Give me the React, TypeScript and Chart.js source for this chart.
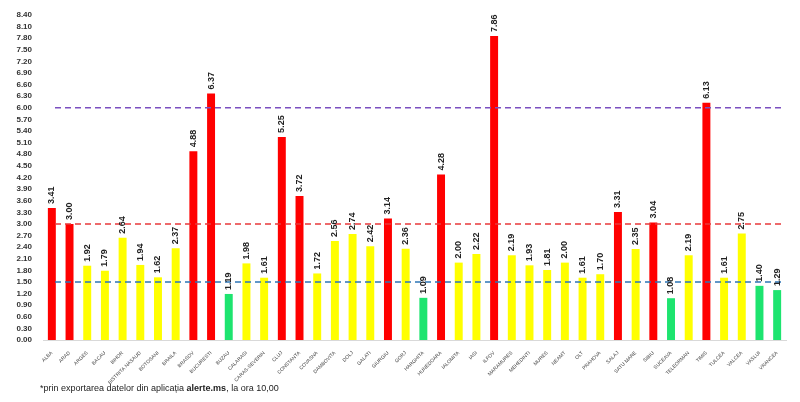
import { useEffect, useRef } from "react";
import { Chart, registerables } from "chart.js";

Chart.register(...registerables);

// judete si rata de incidenta
const judete = [
  "ALBA", "ARAD", "ARGES", "BACAU", "BIHOR", "BISTRITA NASAUD", "BOTOSANI",
  "BRAILA", "BRASOV", "BUCURESTI", "BUZAU", "CALARASI", "CARAS-SEVERIN", "CLUJ",
  "CONSTANTA", "COVASNA", "DAMBOVITA", "DOLJ", "GALATI", "GIURGIU", "GORJ",
  "HARGHITA", "HUNEDOARA", "IALOMITA", "IASI", "ILFOV", "MARAMURES", "MEHEDINTI",
  "MURES", "NEAMT", "OLT", "PRAHOVA", "SALAJ", "SATU MARE", "SIBIU", "SUCEAVA",
  "TELEORMAN", "TIMIS", "TULCEA", "VALCEA", "VASLUI", "VRANCEA",
];
const rate = [
  3.41, 3.0, 1.92, 1.79, 2.64, 1.94, 1.62,
  2.37, 4.88, 6.37, 1.19, 1.98, 1.61, 5.25,
  3.72, 1.72, 2.56, 2.74, 2.42, 3.14, 2.36,
  1.09, 4.28, 2.0, 2.22, 7.86, 2.19, 1.93,
  1.81, 2.0, 1.61, 1.7, 3.31, 2.35, 3.04, 1.08,
  2.19, 6.13, 1.61, 2.75, 1.4, 1.29,
];
// praguri: verde / galben / rosu
const praguri = [1.5, 3, 6];
const culoriPraguri = ["#2E75B6", "#E8383B", "#7B4FC0"];

const culoare = (v: number) =>
  v < praguri[0] ? "#1DE46F" : v < praguri[1] ? "#FFFF00" : "#FF0000";

const pragPlugin = {
  id: "praguri",
  afterDatasetsDraw(chart: any) {
    const { ctx, chartArea, scales } = chart;
    ctx.save();
    ctx.lineWidth = 1.5;
    ctx.setLineDash([6, 4]);
    praguri.forEach((p, i) => {
      const y = scales.y.getPixelForValue(p);
      ctx.strokeStyle = culoriPraguri[i];
      ctx.beginPath();
      ctx.moveTo(chartArea.left + 12, y);
      ctx.lineTo(chartArea.right - 3, y);
      ctx.stroke();
    });
    ctx.restore();
  },
};

const valoriPlugin = {
  id: "valori",
  afterDatasetsDraw(chart: any) {
    const { ctx } = chart;
    const meta = chart.getDatasetMeta(0);
    ctx.save();
    ctx.fillStyle = "#222";
    ctx.font = "bold 9px 'Liberation Sans', Arial, sans-serif";
    ctx.textAlign = "left";
    ctx.textBaseline = "middle";
    meta.data.forEach((bar: any, i: number) => {
      ctx.save();
      ctx.translate(bar.x, bar.y - 4);
      ctx.rotate(-Math.PI / 2);
      ctx.fillText(rate[i].toFixed(2), 0, 0);
      ctx.restore();
    });
    ctx.restore();
  },
};

export default function App() {
  const canvasRef = useRef<HTMLCanvasElement | null>(null);
  const chartRef = useRef<Chart | null>(null);

  useEffect(() => {
    if (chartRef.current) chartRef.current.destroy();
    const ctx = canvasRef.current?.getContext("2d");
    if (!ctx) return;

    chartRef.current = new Chart(ctx, {
      type: "bar",
      data: {
        labels: judete,
        datasets: [
          {
            data: rate,
            backgroundColor: rate.map(culoare),
            barPercentage: 0.45,
            categoryPercentage: 1,
          },
        ],
      },
      options: {
        animation: false,
        responsive: true,
        maintainAspectRatio: false,
        layout: { padding: { top: 15, right: 14, left: 0, bottom: 0 } },
        plugins: {
          legend: { display: false },
          tooltip: { enabled: false },
        },
        scales: {
          x: {
            grid: { display: false },
            border: { color: "#d9d9d9" },
            ticks: {
              autoSkip: false,
              minRotation: 45,
              maxRotation: 45,
              color: "#444",
              font: { size: 5, family: "'Liberation Sans', Arial, sans-serif" },
              padding: 2,
            },
            afterFit: (scale: any) => {
              scale.height = 62;
            },
          },
          y: {
            min: 0,
            max: 8.4,
            grid: { display: false },
            border: { display: false },
            ticks: {
              stepSize: 0.3,
              autoSkip: false,
              color: "#333",
              font: { size: 8, weight: "bold", family: "'Liberation Sans', Arial, sans-serif" },
              callback: (v: any) => Number(v).toFixed(2),
            },
            afterFit: (scale: any) => {
              scale.width = 43;
            },
          },
        },
      },
      plugins: [pragPlugin, valoriPlugin],
    });

    return () => {
      if (chartRef.current) chartRef.current.destroy();
    };
  }, []);

  return (
    <div
      style={{
        position: "fixed",
        top: 0,
        left: 0,
        width: 800,
        height: 402,
        background: "#fff",
      }}
    >
      <canvas ref={canvasRef} />
      <div
        style={{
          position: "absolute",
          left: 40,
          top: 383,
          fontFamily: "'Liberation Sans', Arial, sans-serif",
          fontSize: 9,
          color: "#222",
        }}
      >
        *prin exportarea datelor din aplicația <b>alerte.ms</b>, la ora 10,00
      </div>
    </div>
  );
}
